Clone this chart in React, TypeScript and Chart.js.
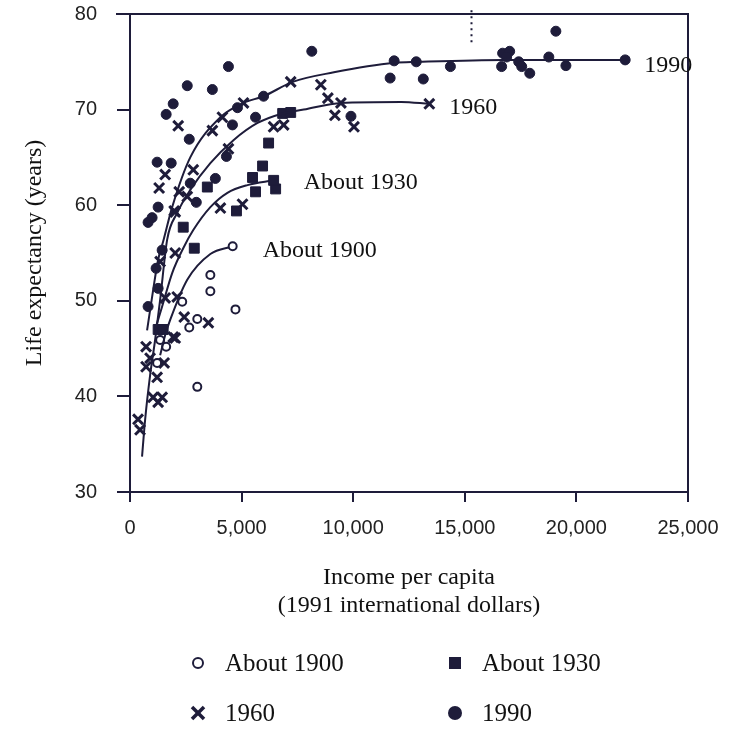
import React, { useEffect, useRef } from "react";
import { Chart, registerables } from "chart.js";
Chart.register(...registerables);

const X_MIN = 0;
const X_MAX = 25000;
const X_STEP = 5000;
const Y_MIN = 30;
const Y_MAX = 80;
const Y_STEP = 10;

const X_TITLE = ["Income per capita", "(1991 international dollars)"];
const Y_TITLE = "Life expectancy (years)";
const SERIES = ["About 1900", "About 1930", "1960", "1990"];

// scattered country observations [income, life expectancy]
const PTS_1900: [number, number][] = [
  [3600, 52.7], [3600, 51.0], [4725, 49.1], [2340, 49.9], [3015, 48.1],
  [2655, 47.2], [1620, 45.2], [3015, 41.0], [1215, 43.5], [1350, 45.9],
];
const PTS_1930: [number, number][] = [
  [6840, 69.6], [7200, 69.7], [6210, 66.5], [5940, 64.1], [5490, 62.9],
  [5625, 61.4], [6525, 61.7], [3465, 61.9], [4770, 59.4], [2385, 57.7],
  [2880, 55.5], [1260, 47.0], [1485, 47.0],
];
const PTS_1960: [number, number][] = [
  [2160, 68.3], [3690, 67.8], [4140, 69.2], [5085, 70.7], [6435, 68.2],
  [6885, 68.4], [1575, 63.2], [1305, 61.8], [2835, 63.7], [2205, 61.4],
  [2565, 60.9], [1980, 59.4], [4050, 59.7], [5040, 60.1], [4410, 65.9],
  [7200, 72.9], [8550, 72.6], [8865, 71.2], [9450, 70.7], [9180, 69.4],
  [10035, 68.2], [1350, 54.1], [2025, 55.0], [1575, 50.3], [2115, 50.4],
  [2430, 48.3], [3510, 47.7], [2025, 46.1], [720, 45.2], [900, 44.0],
  [720, 43.1], [1530, 43.5], [1215, 42.0], [1035, 39.9], [1440, 39.9],
  [1260, 39.4], [360, 37.6], [450, 36.5], [1935, 46.2], [2025, 59.3],
];
const PTS_1990: [number, number][] = [
  [8145, 76.1], [4410, 74.5], [2565, 72.5], [3690, 72.1], [1935, 70.6],
  [1620, 69.5], [5625, 69.2], [4590, 68.4], [2655, 66.9], [4320, 65.1],
  [1215, 64.5], [1845, 64.4], [3825, 62.8], [2700, 62.3], [2970, 60.3],
  [1260, 59.8], [5985, 71.4], [4815, 70.2], [11835, 75.1], [11655, 73.3],
  [9900, 69.3], [12825, 75.0], [13140, 73.2], [14355, 74.5], [19080, 78.2],
  [16695, 75.9], [17010, 76.1], [16875, 75.5], [16650, 74.5], [17415, 75.0],
  [17550, 74.5], [17910, 73.8], [18765, 75.5], [19530, 74.6], [990, 58.7],
  [810, 58.2], [1440, 55.3], [1170, 53.4], [1260, 51.3], [810, 49.4],
];

// fitted curves
const CURVE_1900: [number, number][] = [
  [1350, 44.3], [1575, 46.4], [1800, 48.0], [2565, 52.2], [3600, 54.9], [4600, 55.7],
];
const CURVE_1930: [number, number][] = [
  [1125, 47.0], [1440, 49.4], [1890, 52.9], [2385, 55.5], [2835, 57.4],
  [3600, 59.8], [4365, 61.3], [5265, 62.1], [6435, 62.6],
];
const CURVE_1960: [number, number][] = [
  [540, 33.7], [675, 37.5], [900, 42.2], [1125, 45.9], [1350, 50.1],
  [1665, 56.4], [2115, 59.2], [2700, 61.6], [3600, 64.4], [4635, 66.8],
  [5715, 68.6], [6840, 69.6], [7785, 70.0], [9450, 70.7], [12150, 70.8], [13410, 70.6],
];
const CURVE_1990: [number, number][] = [
  [765, 46.9], [1035, 51.1], [1260, 54.3], [1485, 56.2], [1890, 59.8],
  [2700, 65.0], [4050, 69.2], [5085, 70.7], [5985, 71.4], [7290, 72.9],
  [9135, 73.9], [11835, 74.9], [12915, 75.0], [16785, 75.2], [22185, 75.2],
];
const CURVE_LABELS = ["About 1900", "About 1930", "1960", "1990"];

// small dotted mark at the top of the frame (scan artefact)
const DOTTED_MARK: [number, number][] = [[15300, 80.4], [15300, 76.7]];

const INK = "#1e1c3a";
const SERIF = "'Liberation Serif', 'Times New Roman', serif";
const SANS = "'Liberation Sans', Arial, sans-serif";

const toXY = (a: [number, number][]) => a.map(([x, y]) => ({ x, y }));

const LABEL_OFFSETS: Record<string, [number, number]> = {
  "About 1900": [30, 4],
  "About 1930": [30, 2],
  "1960": [20, 4],
  "1990": [19, 6],
};

const framePlugin = {
  id: "frame",
  afterDatasetsDraw(chart: any) {
    const { ctx, chartArea } = chart;
    ctx.save();
    ctx.strokeStyle = INK;
    ctx.lineWidth = 2;
    ctx.beginPath();
    ctx.moveTo(chartArea.left - 14, chartArea.top);
    ctx.lineTo(chartArea.right, chartArea.top);
    ctx.lineTo(chartArea.right, chartArea.bottom);
    ctx.stroke();
    // curve end labels
    ctx.fillStyle = "#111";
    ctx.font = `24px ${SERIF}`;
    ctx.textBaseline = "middle";
    ctx.textAlign = "left";
    chart.data.datasets.forEach((ds: any, i: number) => {
      if (!ds.endLabel) return;
      const meta = chart.getDatasetMeta(i);
      const el = meta.data[meta.data.length - 1];
      const off = LABEL_OFFSETS[ds.endLabel] || [20, 0];
      ctx.fillText(ds.endLabel, el.x + off[0], el.y + off[1]);
    });
    ctx.restore();
  },
};

const markerStyles = [
  { pointStyle: "circle", radius: 4, bg: "#ffffff", bw: 2 },
  { pointStyle: "rect", radius: 7, bg: INK, bw: 1 },
  { pointStyle: "crossRot", radius: 7, bg: INK, bw: 3 },
  { pointStyle: "circle", radius: 5, bg: INK, bw: 1 },
];

export default function App() {
  const ref = useRef<HTMLCanvasElement | null>(null);

  useEffect(() => {
    document.body.style.margin = "0";
    const canvas = ref.current;
    if (!canvas) return;
    const pointSets = [PTS_1900, PTS_1930, PTS_1960, PTS_1990];
    const curves = [CURVE_1900, CURVE_1930, CURVE_1960, CURVE_1990];

    const datasets: any[] = [];
    curves.forEach((c, i) => {
      const m = markerStyles[i];
      datasets.push({
        label: CURVE_LABELS[i] + " curve",
        endLabel: CURVE_LABELS[i],
        data: toXY(c),
        showLine: true,
        borderColor: INK,
        borderWidth: 2,
        cubicInterpolationMode: "monotone",
        pointRadius: c.map((_, k) => (k === c.length - 1 ? m.radius : 0)),
        pointStyle: m.pointStyle,
        pointBackgroundColor: m.bg,
        pointBorderColor: INK,
        pointBorderWidth: m.bw,
      });
    });
    pointSets.forEach((p, i) => {
      const m = markerStyles[i];
      datasets.push({
        label: SERIES[i],
        data: toXY(p),
        showLine: false,
        pointStyle: m.pointStyle,
        pointRadius: m.radius,
        pointBackgroundColor: m.bg,
        pointBorderColor: INK,
        pointBorderWidth: m.bw,
      });
    });
    datasets.push({
      label: "mark",
      data: toXY(DOTTED_MARK),
      showLine: true,
      borderColor: INK,
      borderWidth: 2,
      borderDash: [2, 4],
      pointRadius: 0,
      clip: false,
    });

    const chart = new Chart(canvas, {
      type: "scatter",
      data: { datasets },
      options: {
        animation: false,
        responsive: false,
        events: [],
        layout: { padding: { left: 0, top: 14, right: 48, bottom: 111 } },
        plugins: { legend: { display: false }, tooltip: { enabled: false } },
        scales: {
          x: {
            type: "linear",
            min: X_MIN,
            max: X_MAX,
            afterFit: (s: any) => {
              s.height = 128;
            },
            ticks: {
              stepSize: X_STEP,
              padding: 14,
              color: "#222",
              font: { family: SANS, size: 20 },
              callback: (v: any) => Number(v).toLocaleString("en-US"),
            },
            grid: { drawOnChartArea: false, drawTicks: true, tickLength: 10, color: INK, lineWidth: 2 },
            border: { display: true, color: INK, width: 2 },
            title: {
              display: true,
              text: X_TITLE,
              color: "#111",
              font: { family: SERIF, size: 24, lineHeight: 1.17 },
              padding: { top: 0, bottom: 0 },
            },
          },
          y: {
            type: "linear",
            min: Y_MIN,
            max: Y_MAX,
            afterFit: (s: any) => {
              s.width = 130;
              s.paddingTop = 0;
              s.paddingBottom = 0;
            },
            ticks: {
              stepSize: Y_STEP,
              padding: 20,
              color: "#222",
              font: { family: SANS, size: 20 },
            },
            grid: { drawOnChartArea: false, drawTicks: true, tickLength: 13, color: INK, lineWidth: 2 },
            border: { display: true, color: INK, width: 2 },
            title: {
              display: true,
              text: Y_TITLE,
              color: "#111",
              font: { family: SERIF, size: 24, lineHeight: 1.17 },
              padding: { top: 21, bottom: 0 },
            },
          },
        },
      } as any,
      plugins: [framePlugin],
    });
    return () => chart.destroy();
  }, []);

  const legendItem = (i: number, left: number, top: number) => {
    let marker: React.ReactNode;
    if (i === 0)
      marker = <circle cx="10" cy="10" r="5" fill="#fff" stroke={INK} strokeWidth="2" />;
    else if (i === 1) marker = <rect x="4" y="4" width="12" height="12" fill={INK} />;
    else if (i === 2)
      marker = (
        <g stroke={INK} strokeWidth="3.5">
          <line x1="4" y1="4" x2="16" y2="16" />
          <line x1="16" y1="4" x2="4" y2="16" />
        </g>
      );
    else marker = <circle cx="10" cy="10" r="7" fill={INK} />;
    return (
      <div
        key={i}
        style={{
          position: "absolute",
          left,
          top,
          height: 30,
          display: "flex",
          alignItems: "center",
          fontFamily: SERIF,
          fontSize: 25,
          color: "#111",
          whiteSpace: "nowrap",
        }}
      >
        <svg width="20" height="20" style={{ marginRight: 17 }}>
          {marker}
        </svg>
        <span>{SERIES[i]}</span>
      </div>
    );
  };

  return (
    <div style={{ position: "relative", width: 736, height: 731, background: "#fff" }}>
      <canvas ref={ref} width={736} height={731} style={{ display: "block" }} />
      {legendItem(0, 188, 648)}
      {legendItem(1, 445, 648)}
      {legendItem(2, 188, 698)}
      {legendItem(3, 445, 698)}
    </div>
  );
}
